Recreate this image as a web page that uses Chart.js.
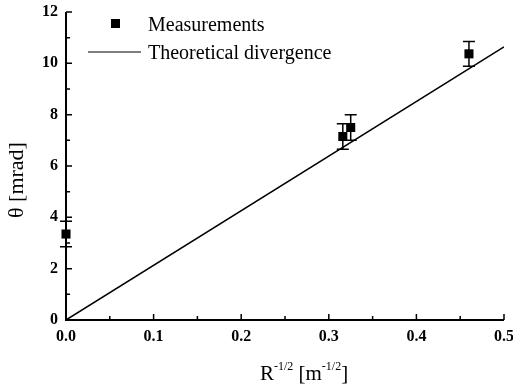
<!DOCTYPE html>
<html>
<head>
<meta charset="utf-8">
<script src="https://cdn.jsdelivr.net/npm/chart.js@4/dist/chart.umd.min.js"></script>
<style>
  html, body { margin: 0; padding: 0; background: #fff; }
  #wrap { width: 513px; height: 388px; }
</style>
</head>
<body>
<div id="wrap"><canvas id="divChart" width="513" height="388"></canvas></div>
<script>
// measurements (R^-1/2, theta) with error bars
const xMeas = [0.0, 0.316, 0.325, 0.46];
const yMeas = [3.35, 7.15, 7.5, 10.37];
const yErr = [0.5, 0.5, 0.5, 0.48];
// theoretical divergence line
const xTheory = [0, 0.5];
const yTheory = [0, 10.64];

const serif = "'Liberation Serif', 'Times New Roman', serif";

// error bars, ticks, axes, legend and axis titles drawn on top
const extras = {
    id: 'extras',
    afterDatasetsDraw(chart) {
        const ctx = chart.ctx;
        const xs = chart.scales.x, ys = chart.scales.y;
        const a = chart.chartArea;
        ctx.save();
        ctx.strokeStyle = '#000';
        ctx.fillStyle = '#000';

        // error bars
        ctx.lineWidth = 1.5;
        for (let i = 0; i < xMeas.length; i++) {
            const px = xs.getPixelForValue(xMeas[i]);
            const top = ys.getPixelForValue(yMeas[i] + yErr[i]);
            const bot = ys.getPixelForValue(yMeas[i] - yErr[i]);
            ctx.beginPath();
            ctx.moveTo(px, top); ctx.lineTo(px, bot);
            ctx.moveTo(px - 6, top); ctx.lineTo(px + 6, top);
            ctx.moveTo(px - 6, bot); ctx.lineTo(px + 6, bot);
            ctx.stroke();
        }

        // axes
        ctx.lineWidth = 2;
        ctx.beginPath();
        ctx.moveTo(a.left, a.top); ctx.lineTo(a.left, a.bottom); ctx.lineTo(a.right, a.bottom);
        ctx.stroke();

        // inward ticks
        ctx.lineWidth = 1.5;
        ctx.beginPath();
        for (let k = 0; k <= 10; k++) {
            const px = xs.getPixelForValue(k * 0.05);
            const len = k % 2 === 0 ? 6 : 4;
            ctx.moveTo(px, a.bottom); ctx.lineTo(px, a.bottom - len);
        }
        for (let k = 0; k <= 12; k++) {
            const py = ys.getPixelForValue(k);
            const len = k % 2 === 0 ? 6 : 4;
            ctx.moveTo(a.left, py); ctx.lineTo(a.left + len, py);
        }
        ctx.stroke();

        // legend
        ctx.fillRect(111, 19, 9, 9);
        ctx.lineWidth = 1.2;
        ctx.beginPath();
        ctx.moveTo(88, 52); ctx.lineTo(141, 52);
        ctx.stroke();
        ctx.font = '20px ' + serif;
        ctx.textBaseline = 'alphabetic';
        ctx.textAlign = 'left';
        ctx.fillText('Measurements', 148, 31);
        ctx.fillText('Theoretical divergence', 148, 59);

        // y title
        ctx.save();
        ctx.translate(17, 180);
        ctx.rotate(-Math.PI / 2);
        ctx.font = '22px ' + serif;
        ctx.textAlign = 'center';
        ctx.textBaseline = 'middle';
        ctx.fillText('θ [mrad]', 0, 0);
        ctx.restore();

        // x title with superscripts
        const parts = [['R', false], ['-1/2', true], [' [m', false], ['-1/2', true], [']', false]];
        const big = '21px ' + serif, small = '12px ' + serif;
        let w = 0;
        parts.forEach(p => { ctx.font = p[1] ? small : big; w += ctx.measureText(p[0]).width; });
        let x = 304 - w / 2;
        const base = 380;
        parts.forEach(p => {
            ctx.font = p[1] ? small : big;
            ctx.fillText(p[0], x, p[1] ? base - 10 : base);
            x += ctx.measureText(p[0]).width;
        });
        ctx.restore();
    }
};

const ctx = document.getElementById('divChart');
new Chart(ctx, {
    type: 'scatter',
    data: {
        datasets: [{
            label: 'Measurements',
            data: xMeas.map((x, i) => ({ x: x, y: yMeas[i] })),
            pointStyle: 'rect',
            pointRadius: 6.4,
            backgroundColor: '#000',
            borderColor: '#000',
            borderWidth: 0,
            clip: false,
        }, {
            type: 'line',
            label: 'Theoretical divergence',
            data: xTheory.map((x, i) => ({ x: x, y: yTheory[i] })),
            borderColor: '#000',
            borderWidth: 1.5,
            pointRadius: 0,
            fill: false,
        }],
    },
    options: {
        responsive: false,
        animation: false,
        layout: { padding: { top: 12, right: 9, left: 0, bottom: 0 } },
        plugins: { legend: { display: false }, tooltip: { enabled: false } },
        scales: {
            x: {
                type: 'linear', min: 0, max: 0.5,
                grid: { display: false, drawTicks: false },
                border: { display: false },
                ticks: {
                    stepSize: 0.1, padding: 7, color: '#000',
                    font: { family: serif, size: 16, weight: 'bold' },
                    callback: v => v.toFixed(1),
                },
                afterFit(s) { s.height = 68; s.paddingLeft = 0; s.paddingRight = 0; },
            },
            y: {
                min: 0, max: 12,
                grid: { display: false, drawTicks: false },
                border: { display: false },
                ticks: {
                    stepSize: 2, padding: 8, color: '#000',
                    font: { family: serif, size: 16, weight: 'bold' },
                },
                afterFit(s) { s.width = 66; s.paddingTop = 0; s.paddingBottom = 0; },
            },
        },
    },
    plugins: [extras],
});
</script>
</body>
</html>
